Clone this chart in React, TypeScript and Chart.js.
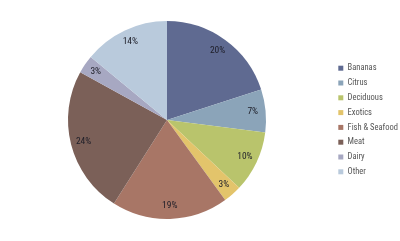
import React, { useEffect, useRef } from "react";
import { Chart, registerables } from "chart.js";

Chart.register(...registerables);

const categories = ["Bananas", "Citrus", "Deciduous", "Exotics", "Fish & Seafood", "Meat", "Dairy", "Other"];
const shares = [20, 7, 10, 3, 19, 24, 3, 14];
const colors = ["#5f6a91", "#8ba4b9", "#b9c46c", "#e3c46b", "#a87666", "#7b6058", "#a7a8c2", "#b9cadc"];

const FONT = "'Roboto Condensed', 'Liberation Sans Narrow', sans-serif";

const labelPlugin = {
  id: "sliceLabels",
  afterDatasetsDraw(chart: any) {
    const ctx = chart.ctx;
    const meta = chart.getDatasetMeta(0);
    ctx.save();
    ctx.font = `9.5px ${FONT}`;
    ctx.fillStyle = "#1e1e28";
    ctx.textAlign = "center";
    ctx.textBaseline = "middle";
    meta.data.forEach((arc: any, i: number) => {
      const { x, y, startAngle, endAngle, outerRadius } = arc.getProps(["x", "y", "startAngle", "endAngle", "outerRadius"], true);
      const mid = (startAngle + endAngle) / 2;
      const r = outerRadius * 0.87;
      ctx.fillText(shares[i] + "%", x + Math.cos(mid) * r, y + Math.sin(mid) * r);
    });
    ctx.restore();
  },
};

export default function App() {
  const ref = useRef<HTMLCanvasElement>(null);
  useEffect(() => {
    const chart = new Chart(ref.current!, {
      type: "pie",
      data: {
        labels: categories,
        datasets: [{ data: shares, backgroundColor: colors, borderWidth: 0 }],
      },
      options: {
        animation: false,
        responsive: false,
        layout: { padding: { top: 21, bottom: 22, left: 2, right: 0 } },
        plugins: {
          tooltip: { enabled: false },
          legend: {
            position: "right",
            maxWidth: 68,
            labels: {
              boxWidth: 5,
              boxHeight: 5,
              padding: 6.3,
              color: "#555",
              font: { size: 8.5, family: FONT },
            },
          },
        },
      },
      plugins: [labelPlugin],
    });
    return () => chart.destroy();
  }, []);
  return (
    <div style={{ position: "fixed", left: 0, top: 0, width: 400, height: 241, background: "#fff" }}>
      <canvas ref={ref} width={400} height={241} />
    </div>
  );
}
